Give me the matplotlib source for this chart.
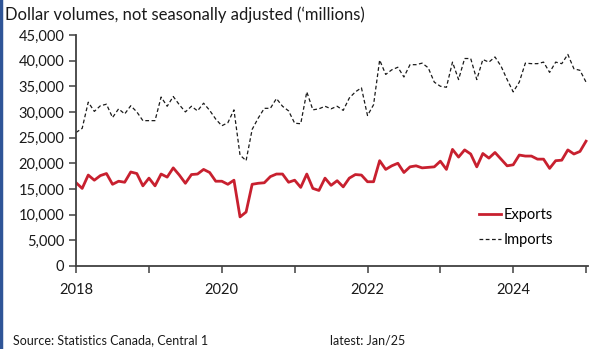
import matplotlib
matplotlib.use("Agg")
import matplotlib.pyplot as plt
import matplotlib.ticker as mticker
from matplotlib.lines import Line2D
import numpy as np

plt.rcParams['font.family'] = ['Lato', 'DejaVu Sans']

# monthly, Jan 2018 .. Jan 2025 ($ millions)
start_year = 2018
exports = [16200, 15100, 17700, 16700, 17600, 18000, 15900, 16500, 16300, 18300, 18000, 15600,
           17100, 15600, 17900, 17300, 19100, 17700, 16100, 17800, 17900, 18800, 18200, 16500,
           16500, 15900, 16700, 9550, 10500, 15900, 16100, 16200, 17400, 17900, 17900, 16300,
           16700, 15300, 17900, 15100, 14700, 17100, 15700, 16600, 15400, 17100, 17800, 17700,
           16400, 16400, 20500, 18800, 19500, 20000, 18200, 19300, 19500, 19100, 19200, 19300,
           20400, 18800, 22700, 21200, 22600, 21800, 19300, 21900, 21000, 22100, 20800, 19500,
           19700, 21600, 21400, 21400, 20800, 20800, 19000, 20500, 20600, 22600, 21800, 22300,
           24300]
imports = [26000, 26800, 31900, 30100, 31200, 31500, 28900, 30600, 29600, 31200, 30000, 28300,
           28300, 28300, 32900, 31100, 33000, 31400, 30000, 31100, 30200, 31700, 30300, 28600,
           27300, 27900, 30400, 21600, 20500, 26600, 28800, 30700, 30700, 32600, 31100, 30200,
           27800, 27700, 33900, 30400, 30600, 31100, 30600, 31100, 30300, 32700, 33900, 34700,
           29300, 31400, 40100, 37300, 38200, 38700, 36800, 39200, 39200, 39500, 38600, 35800,
           35000, 34800, 39700, 36300, 40400, 40400, 36300, 40200, 39700, 40700, 38900, 36300,
           33900, 35800, 39500, 39400, 39400, 39700, 37700, 39700, 39400, 41200, 38400, 38100,
           35800]
year_labels = [2018, 2020, 2022, 2024]

x = start_year + np.arange(len(exports)) / 12.0

fig = plt.figure(figsize=(5.9, 3.49), dpi=100)
ax = fig.add_axes([0.129, 0.238, 0.868, 0.662])

ax.plot(x, imports, color='#1a1a1a', lw=0.9, ls=(0, (3, 2)), label='Imports')
ax.plot(x, exports, color='#C8202F', lw=2.0, label='Exports')

ax.set_ylim(0, 45000)
ax.set_xlim(2018, 2025.03)
ax.yaxis.set_major_locator(mticker.MultipleLocator(5000))
ax.yaxis.set_major_formatter(mticker.FuncFormatter(lambda v, p: f"{int(v):,}"))
ax.set_xticks(range(2018, 2026))
ax.set_xticklabels([str(y) if y in year_labels else '' for y in range(2018, 2026)])

for s in ['top', 'right']:
    ax.spines[s].set_visible(False)
for s in ['left', 'bottom']:
    ax.spines[s].set_color('#404040')
    ax.spines[s].set_linewidth(1.3)
ax.tick_params(axis='both', direction='out', length=5, width=1.1, color='#404040',
               labelsize=10.5, labelcolor='#1a1a1a')
ax.tick_params(axis='x', pad=7)

handles, labels = ax.get_legend_handles_labels()
leg = ax.legend(handles[::-1], labels[::-1], loc='upper left', bbox_to_anchor=(0.8, 0.425),
                bbox_transform=fig.transFigure, frameon=False, fontsize=10.5,
                handlelength=1.5, handletextpad=0.2, labelspacing=0.75, borderpad=0)

fig.text(0.008, 0.958, "Dollar volumes, not seasonally adjusted (\u2018millions)",
         fontsize=12, ha='left', va='center', color='#1a1a1a')
fig.text(0.022, 0.025, "Source: Statistics Canada, Central 1", fontsize=9,
         ha='left', va='center', color='#1a1a1a')
fig.text(0.559, 0.025, "latest: Jan/25", fontsize=9, ha='left', va='center', color='#1a1a1a')

# blue border on the left edge
fig.add_artist(Line2D([0.002, 0.002], [0, 1], transform=fig.transFigure,
                      color='#2F5597', lw=2.5))

fig.savefig('out.png', dpi=100)
